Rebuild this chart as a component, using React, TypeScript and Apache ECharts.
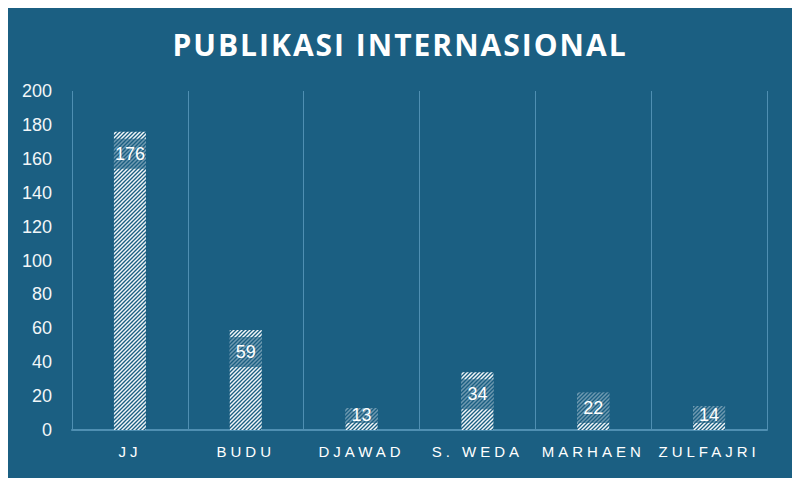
import React, { useEffect, useRef } from 'react';
import * as echarts from 'echarts';

const categories = ['JJ', 'BUDU', 'DJAWAD', 'S. WEDA', 'MARHAEN', 'ZULFAJRI'];
const publications = [176, 59, 13, 34, 22, 14];
const yMin = 0;
const yMax = 200;
const yStep = 20;
const chartTitle = 'PUBLIKASI INTERNASIONAL';

const BG = '#1b5f82';
const LINE = '#4f8fb2';
const BOX_H = 30;
const GAP = 7;

// small repeating tile with "/" hatching
const makeHatch = () => {
  const size = 4;
  const c = document.createElement('canvas');
  c.width = size;
  c.height = size;
  const ctx = c.getContext('2d');
  if (!ctx) return BG;
  ctx.fillStyle = BG;
  ctx.fillRect(0, 0, size, size);
  ctx.strokeStyle = 'rgba(255,255,255,0.95)';
  ctx.lineWidth = 1.5;
  ctx.beginPath();
  ctx.moveTo(-1, 1);
  ctx.lineTo(1, -1);
  ctx.moveTo(-1, size + 1);
  ctx.lineTo(size + 1, -1);
  ctx.moveTo(size - 1, size + 1);
  ctx.lineTo(size + 1, size - 1);
  ctx.stroke();
  return { image: c, repeat: 'repeat' as const };
};

const App: React.FC = () => {
  const chartRef = useRef<HTMLDivElement>(null);

  useEffect(() => {
    if (!chartRef.current) return;
    const chart = echarts.init(chartRef.current, null, { renderer: 'svg' });

    const option: echarts.EChartsOption = {
      animation: false,
      backgroundColor: BG,
      graphic: [
        {
          type: 'text',
          x: 392,
          y: 36,
          style: {
            text: chartTitle,
            fill: '#ffffff',
            fontSize: 30,
            fontWeight: 'bold',
            fontFamily: 'Open Sans',
            textAlign: 'center',
            textVerticalAlign: 'middle',
          },
        },
      ],
      grid: { left: 64, right: 25, top: 83, bottom: 48 },
      xAxis: {
        type: 'category',
        data: categories,
        axisLine: { lineStyle: { color: LINE, width: 2 } },
        axisTick: { show: false },
        splitLine: { show: true, lineStyle: { color: LINE, width: 1 } },
        axisLabel: {
          color: '#ffffff',
          fontSize: 15,
          fontFamily: 'Liberation Sans',
          margin: 14,
        },
      },
      yAxis: {
        type: 'value',
        min: yMin,
        max: yMax,
        interval: yStep,
        axisLine: { show: false },
        axisTick: { show: false },
        splitLine: { show: false },
        axisLabel: {
          color: '#f2f6f8',
          fontSize: 18,
          fontFamily: 'Liberation Sans',
          margin: 20,
        },
      },
      series: [
        {
          type: 'bar',
          data: publications,
          barWidth: 32,
          itemStyle: {
            color: makeHatch() as any,
          },
          label: {
            show: true,
            color: '#ffffff',
            fontSize: 18,
            fontFamily: 'Liberation Sans',
            backgroundColor: 'rgba(27,95,130,0.62)',
            width: 32,
            align: 'center',
          },
        },
      ],
    };

    chart.setOption(option);

    // place each label box with the axis scale: at the top of tall bars, above the base on short ones
    const base = chart.convertToPixel({ yAxisIndex: 0 }, 0) as number;
    const data = publications.map((v) => {
      const h = base - (chart.convertToPixel({ yAxisIndex: 0 }, v) as number);
      const fitsTop = h >= BOX_H + 2 * GAP;
      const boxH = Math.max(10, Math.min(BOX_H, h - GAP));
      return {
        value: v,
        label: {
          position: fitsTop ? 'insideTop' : 'insideBottom',
          distance: GAP,
          height: boxH,
          lineHeight: boxH,
        },
      };
    });
    chart.setOption({ series: [{ data }] } as echarts.EChartsOption);

    // letter-spaced category names and title (svg attribute, text stays intact)
    const spaceLabels = () => {
      chartRef.current?.querySelectorAll('text').forEach((t) => {
        const s = t.textContent || '';
        if (categories.includes(s)) t.setAttribute('letter-spacing', '4');
        else if (s === chartTitle) t.setAttribute('letter-spacing', '2');
      });
    };
    spaceLabels();
    chart.on('finished', spaceLabels);

    return () => {
      chart.off('finished', spaceLabels);
      chart.dispose();
    };
  }, []);

  return (
    <div
      ref={chartRef}
      style={{
        width: 784,
        height: 470,
        outline: '1px solid #a3a3a3',
        outlineOffset: 1,
      }}
    />
  );
};

export default App;
